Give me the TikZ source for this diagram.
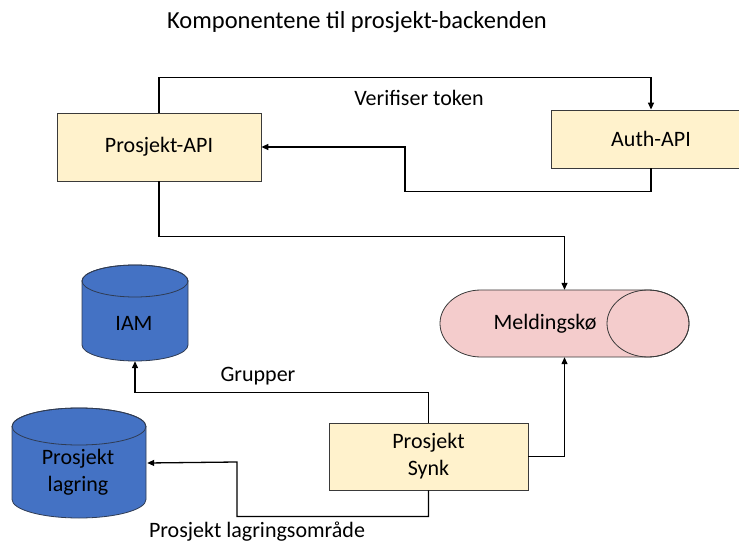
\documentclass[tikz,border=0pt]{standalone}
\usepackage{fontspec}
\setmainfont{Carlito}
\usetikzlibrary{arrows.meta,calc}
\definecolor{boxfill}{HTML}{FFF2CC}
\definecolor{dbfill}{HTML}{4472C4}
\definecolor{dbline}{HTML}{2F3B52}
\definecolor{queuefill}{HTML}{F4CCCC}
\definecolor{edge}{HTML}{3A3A3A}
\tikzset{
  svcbox/.style={draw=edge, line width=0.8pt, fill=boxfill, rectangle,
    inner sep=0pt, align=center, font=\fontsize{22}{27}\selectfont},
  anchorbox/.style={rectangle, draw=none, inner sep=0pt, align=center,
    font=\fontsize{22}{27}\selectfont},
  dbshape/.style={draw=dbline, line width=0.8pt, fill=dbfill},
  qshape/.style={draw=edge, line width=0.8pt, fill=queuefill},
  arr/.style={draw=black, line width=1.3pt, -{Triangle[length=7pt,width=6pt]}},
  lbl/.style={font=\fontsize{22}{27}\selectfont, inner sep=0pt}
}
\begin{document}
\begin{tikzpicture}[x=1pt,y=1pt]
\useasboundingbox (0,0) rectangle (739,-545);

% title
\node[lbl, font=\fontsize{24.5}{29}\selectfont] (title) at (357,-22) {Komponentene til prosjekt-backenden};

% service boxes
\node[svcbox, minimum width=204pt, minimum height=68pt] (papi) at (159,-147) {Prosjekt-API};
\node[svcbox, minimum width=200pt, minimum height=58pt] (auth) at (651,-139) {Auth-API};
\node[svcbox, minimum width=199pt, minimum height=67pt] (synk) at (428.5,-456.5) {Prosjekt\\Synk};

% message queue (horizontal cylinder)
\path[qshape] (481,-290) -- (648,-290)
  arc[start angle=90, end angle=-90, x radius=41, y radius=33.5]
  -- (481,-357)
  arc[start angle=270, end angle=90, x radius=41, y radius=33.5] -- cycle;
\draw[draw=edge, line width=0.8pt] (648,-323.5) ellipse [x radius=41, y radius=33.5];
\node[anchorbox, minimum width=249pt, minimum height=67pt] (mq) at (564.5,-323.5) {};
\node[lbl] (mqtext) at (545,-323.5) {Meldingskø};

% IAM store (vertical cylinder)
\path[dbshape] (82,-281) -- (82,-345)
  arc[start angle=180, end angle=360, x radius=53, y radius=16]
  -- (188,-281)
  arc[start angle=0, end angle=180, x radius=53, y radius=16] -- cycle;
\draw[dbline, line width=0.8pt] (135,-281) ellipse [x radius=53, y radius=16];
\node[anchorbox, minimum width=106pt, minimum height=96pt] (iam) at (135,-313) {};
\node[lbl] (iamtext) at (134,-323) {IAM};

% project storage (vertical cylinder)
\path[dbshape] (12,-426.5) -- (12,-499.5)
  arc[start angle=180, end angle=360, x radius=67, y radius=18.5]
  -- (146,-426.5)
  arc[start angle=0, end angle=180, x radius=67, y radius=18.5] -- cycle;
\draw[dbline, line width=0.8pt] (79,-426.5) ellipse [x radius=67, y radius=18.5];
\node[anchorbox, minimum width=136pt, minimum height=110pt] (store) at (79,-463) {};
\node[lbl, align=center] (storetext) at (78,-472) {Prosjekt\\lagring};

% connectors
\draw[arr] (papi.north) -- ++(0,35) -| (auth.north);
\node[lbl] (verify) at (419,-98) {Verifiser token};

\draw[arr] (auth.south) -- ++(0,-23) -| (405,-147) -- (papi.east);

\draw[arr] (papi.south) -- ++(0,-55) -| (mq.north);

\draw[arr] (synk.east) -| (mq.south);

\draw[arr] (synk.north) -- ++(0,30) -| (iam.south);
\node[lbl] (groups) at (258,-376) {Grupper};

\draw[arr] (synk.south) -- ++(0,-26) -| (237,-462) -- (store.east);
\node[lbl] (area) at (257,-532) {Prosjekt lagringsområde};
\end{tikzpicture}
\end{document}
